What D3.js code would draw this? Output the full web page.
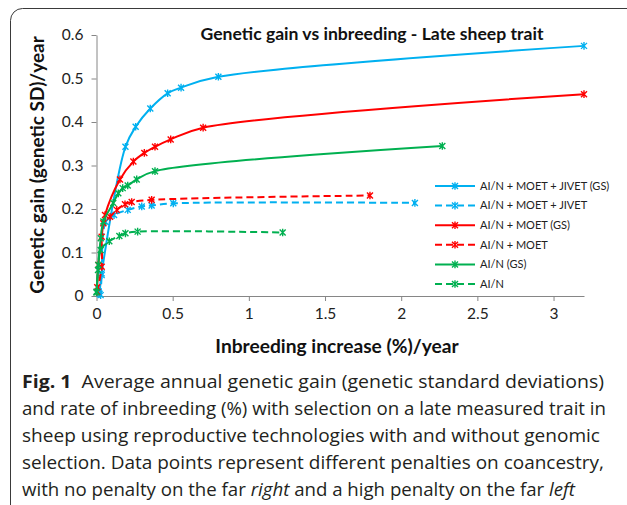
<!DOCTYPE html>
<html><head><meta charset="utf-8">
<script src="https://cdn.jsdelivr.net/npm/d3@7"></script>
<style>body{margin:0;background:#fff}svg{display:block}</style>
</head><body>
<svg id="c" width="627" height="505"></svg>
<script>
// ---- data ----
const seriesNames = ["AI/N + MOET + JIVET (GS)","AI/N + MOET + JIVET","AI/N + MOET (GS)","AI/N + MOET","AI/N (GS)","AI/N"];
const blueGS_x  = [0.02, 0.034, 0.19, 0.257, 0.353, 0.467, 0.555, 0.80, 3.2];
const blueGS_y  = [0.005, 0.052, 0.343, 0.389, 0.431, 0.466, 0.479, 0.504, 0.575];
const blue_x    = [0.027, 0.034, 0.06, 0.115, 0.205, 0.297, 0.362, 0.504, 2.09];
const blue_y    = [0.002, 0.048, 0.17, 0.186, 0.198, 0.206, 0.208, 0.213, 0.214];
const redGS_x   = [0.005, 0.012, 0.034, 0.056, 0.154, 0.242, 0.314, 0.384, 0.487, 0.70, 3.2];
const redGS_y   = [0.02, 0.071, 0.136, 0.186, 0.268, 0.309, 0.329, 0.343, 0.360, 0.387, 0.464];
const red_x     = [0.005, 0.034, 0.045, 0.089, 0.133, 0.187, 0.231, 0.362, 1.795];
const red_y     = [0.01, 0.067, 0.167, 0.182, 0.198, 0.211, 0.216, 0.221, 0.231];
const greenGS_x = [0.0, 0.012, 0.028, 0.045, 0.11, 0.143, 0.172, 0.205, 0.264, 0.384, 2.27];
const greenGS_y = [0.01, 0.071, 0.133, 0.171, 0.214, 0.236, 0.248, 0.254, 0.268, 0.287, 0.345];
const green_x   = [0.0, 0.01, 0.027, 0.084, 0.15, 0.19, 0.27, 1.222];
const green_y   = [0.008, 0.06, 0.106, 0.126, 0.138, 0.144, 0.148, 0.146];
const xTicks = [0, 0.5, 1, 1.5, 2, 2.5, 3];
const yTicks = [0, 0.1, 0.2, 0.3, 0.4, 0.5, 0.6];
const colors = ["#00B0F0","#00B0F0","#FF0000","#FF0000","#00B050","#00B050"];
const dashed = [false,true,false,true,false,true];
const titleText = "Genetic gain vs inbreeding - Late sheep trait";
const xTitle = "Inbreeding increase (%)/year";
const yTitle = "Genetic gain (genetic SD)/year";
const captionLines = [
  [{t:"Fig. 1",b:true},{t:"  Average annual genetic gain (genetic standard deviations)"}],
  [{t:"and rate of inbreeding (%) with selection on a late measured trait in"}],
  [{t:"sheep using reproductive technologies with and without genomic"}],
  [{t:"selection. Data points represent different penalties on coancestry,"}],
  [{t:"with no penalty on the far "},{t:"right",i:true},{t:" and a high penalty on the far "},{t:"left",i:true}]
];

const xs = [blueGS_x, blue_x, redGS_x, red_x, greenGS_x, green_x];
const ys = [blueGS_y, blue_y, redGS_y, red_y, greenGS_y, green_y];
const series = seriesNames.map((n,i)=>({name:n,color:colors[i],dash:dashed[i],
  pts: xs[i].map((x,j)=>[x, ys[i][j]])}));

// ---- drawing ----
const svg = d3.select("#c");
svg.append("rect").attr("width",627).attr("height",505).attr("fill","#fff");
svg.append("rect").attr("x",10.5).attr("y",8.5).attr("width",680).attr("height",540)
  .attr("rx",12).attr("fill","none").attr("stroke","#3a3a3a").attr("stroke-width",1);

const FONT = "Lato, 'Open Sans', sans-serif";
const x = d3.scaleLinear().domain([0,3.2]).range([96.5,584]);
const y = d3.scaleLinear().domain([0,0.6]).range([296,35]);

const gx = svg.append("g").attr("transform","translate(0,296)")
  .call(d3.axisBottom(x).tickValues(xTicks).tickSize(5).tickSizeOuter(0).tickPadding(7).tickFormat(d3.format("~g")));
const gy = svg.append("g").attr("transform","translate(96.5,0)")
  .call(d3.axisLeft(y).tickValues(yTicks).tickSize(5).tickSizeOuter(0).tickPadding(8).tickFormat(d3.format("~g")));
[gx,gy].forEach(g=>{
  g.select(".domain").attr("stroke","#868686");
  g.selectAll(".tick line").attr("stroke","#868686");
  g.selectAll("text").attr("font-family",FONT).attr("font-size",15.5).attr("fill","#222");
});

const line = d3.line().x(d=>x(d[0])).y(d=>y(d[1])).curve(d3.curveCatmullRom.alpha(0.5));
const star = "M-3,-3L3,3M-3,3L3,-3M0,-3.8L0,3.8";

series.forEach(s=>{
  svg.append("path").attr("d",line(s.pts)).attr("fill","none").attr("stroke",s.color)
    .attr("stroke-width",2).attr("stroke-dasharray",s.dash?"7,4":null);
  svg.append("g").selectAll("path").data(s.pts).join("path")
    .attr("transform",d=>`translate(${x(d[0])},${y(d[1])})`)
    .attr("d",star).attr("stroke",s.color).attr("stroke-width",1.4).attr("fill","none");
});

// title
svg.append("text").attr("x",372).attr("y",40).attr("text-anchor","middle")
  .attr("font-family",FONT).attr("font-weight","bold").attr("font-size",17.6).attr("fill","#111").text(titleText);
// axis titles
svg.append("text").attr("x",337).attr("y",353).attr("text-anchor","middle")
  .attr("font-family",FONT).attr("font-weight","bold").attr("font-size",19.2).attr("fill","#111").text(xTitle);
svg.append("text").attr("transform","translate(44,165) rotate(-90)").attr("text-anchor","middle")
  .attr("font-family",FONT).attr("font-weight","bold").attr("font-size",19).attr("fill","#111").text(yTitle);

// legend
const lg = svg.append("g");
series.forEach((s,i)=>{
  const cy = 186 + i*19.6;
  lg.append("line").attr("x1",435).attr("x2",475).attr("y1",cy).attr("y2",cy)
    .attr("stroke",s.color).attr("stroke-width",2).attr("stroke-dasharray",s.dash?"7,4":null);
  lg.append("path").attr("transform",`translate(455,${cy})`).attr("d",star)
    .attr("stroke",s.color).attr("stroke-width",1.4).attr("fill","none");
  lg.append("text").attr("x",480).attr("y",cy).attr("dy","0.35em")
    .attr("font-family",FONT).attr("font-size",11).attr("fill","#222").text(s.name);
});

// caption
const capWidths = [582, 584, 578, 582, 553];
captionLines.forEach((ln,i)=>{
  const t = svg.append("text").attr("x",22).attr("y",388 + i*27)
    .attr("font-family","'Open Sans', sans-serif").attr("font-size",17.5).attr("fill","#231f20")
    .attr("textLength",capWidths[i]).attr("lengthAdjust","spacingAndGlyphs")
    .attr("xml:space","preserve").style("white-space","pre");
  ln.forEach(p=>{
    t.append("tspan").text(p.t).attr("font-weight",p.b?"bold":null).attr("font-style",p.i?"italic":null);
  });
});
</script>
</body></html>
